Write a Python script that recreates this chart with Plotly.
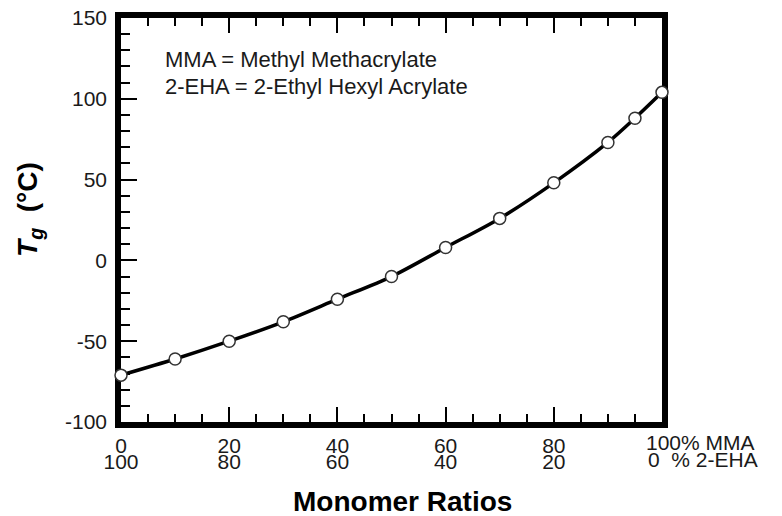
import plotly.graph_objects as go

# Data
mma_pct = [0, 10, 20, 30, 40, 50, 60, 70, 80, 90, 95, 100]
tg_c = [-71, -61, -50, -38, -24, -10, 8, 26, 48, 73, 88, 104]

x_tickvals = [0, 20, 40, 60, 80, 100]
x_row1 = ["0", "20", "40", "60", "80", ""]
x_row2 = ["100", "80", "60", "40", "20", ""]
end_row1 = "100% MMA"
end_row2 = "0&nbsp;&nbsp;% 2-EHA"
y_tickvals = [-100, -50, 0, 50, 100, 150]
y_ticktext = ["-100", "-50", "0", "50", "100", "150"]
note_lines = ["MMA = Methyl Methacrylate", "2-EHA = 2-Ethyl Hexyl Acrylate"]

FONT = "Liberation Sans, Arial, sans-serif"
TXT = "#1a1a1a"

# page body has an 8px default margin: plot area in window px = 121..662 x 18..422
OFF = 8
L, T = 121 - OFF, 18 - OFF
PW, PH = 541, 404
ROW = 25  # offset of the free (second-row) label axis below the plot
BOT = T + PH + ROW
W, H = 782, 516

fig = go.Figure()
fig.add_trace(go.Scatter(
    x=mma_pct, y=tg_c, mode="lines+markers",
    line=dict(color="black", width=3.5, shape="spline", smoothing=0.8),
    marker=dict(size=12, color="white", line=dict(color="#333", width=1.5)),
    cliponaxis=False, showlegend=False,
))
# invisible trace to activate the second (label-only) x axis
fig.add_trace(go.Scatter(x=[mma_pct[0]], y=[tg_c[0]], xaxis="x2", mode="markers",
                         marker=dict(opacity=0), showlegend=False, hoverinfo="skip"))

axis_common = dict(showgrid=False, zeroline=False, showline=True, linecolor="black",
                   linewidth=5.5, ticks="inside", tickcolor="black", tickwidth=2,
                   layer="below traces", automargin=False, ticklabeloverflow="allow",
                   tickfont=dict(family=FONT, size=21, color=TXT))

d = ROW / (BOT - T)
fig.update_layout(
    width=W, height=H,
    margin=dict(l=L, r=W - L - PW, t=T, b=H - BOT),
    paper_bgcolor="white", plot_bgcolor="white",
    xaxis=dict(range=[0, 100], tickvals=x_tickvals, ticktext=x_row1, ticklen=15,
               mirror="ticks", anchor="y",
               minor=dict(tickvals=[v for v in range(0, 101, 5)], ticklen=8,
                          ticks="inside", tickcolor="black", tickwidth=2),
               **axis_common),
    xaxis2=dict(range=[0, 100], overlaying="x", anchor="free", position=0, side="bottom",
                tickvals=x_tickvals, ticktext=x_row2, showgrid=False, zeroline=False,
                showline=False, ticks="", automargin=False, ticklabeloverflow="allow",
                tickfont=dict(family=FONT, size=21, color=TXT)),
    yaxis=dict(range=[-100, 150], domain=[d, 1], tickvals=y_tickvals, ticktext=y_ticktext,
               ticklen=16, mirror=True, ticklabelstandoff=4,
               minor=dict(tickvals=[v for v in range(-100, 151, 10)], ticklen=9,
                          ticks="inside", tickcolor="black", tickwidth=2),
               **axis_common),
)

annotations = [
    dict(text=note_lines[0], xref="paper", yref="y", x=0, y=150, xshift=42, yshift=-41.5,
         xanchor="left", yanchor="middle", showarrow=False,
         font=dict(family=FONT, size=22, color=TXT)),
    dict(text=note_lines[1], xref="paper", yref="y", x=0, y=150, xshift=42, yshift=-68.5,
         xanchor="left", yanchor="middle", showarrow=False,
         font=dict(family=FONT, size=22, color=TXT)),
    dict(text=end_row1, xref="x", yref="y", x=100, y=-100, xshift=-18, yshift=-20,
         xanchor="left", yanchor="middle", showarrow=False,
         font=dict(family=FONT, size=21, color=TXT)),
    dict(text=end_row2, xref="x", yref="y", x=100, y=-100, xshift=-16, yshift=-37,
         xanchor="left", yanchor="middle", showarrow=False,
         font=dict(family=FONT, size=21, color=TXT)),
    dict(text="<b>Monomer Ratios</b>", xref="x", yref="y", x=50, y=-100,
         xshift=11, yshift=-79, xanchor="center", yanchor="middle", showarrow=False,
         font=dict(family=FONT, size=28, color="black")),
    dict(text="<b><i>T</i><sub><i>g</i></sub>&nbsp;&nbsp;(°C)</b>", xref="paper", yref="y",
         x=0, y=30, xshift=-91, yshift=2, textangle=-90,
         xanchor="center", yanchor="middle", showarrow=False,
         font=dict(family=FONT, size=28, color="black")),
]
fig.update_layout(annotations=annotations)

fig.write_html("out.html")
